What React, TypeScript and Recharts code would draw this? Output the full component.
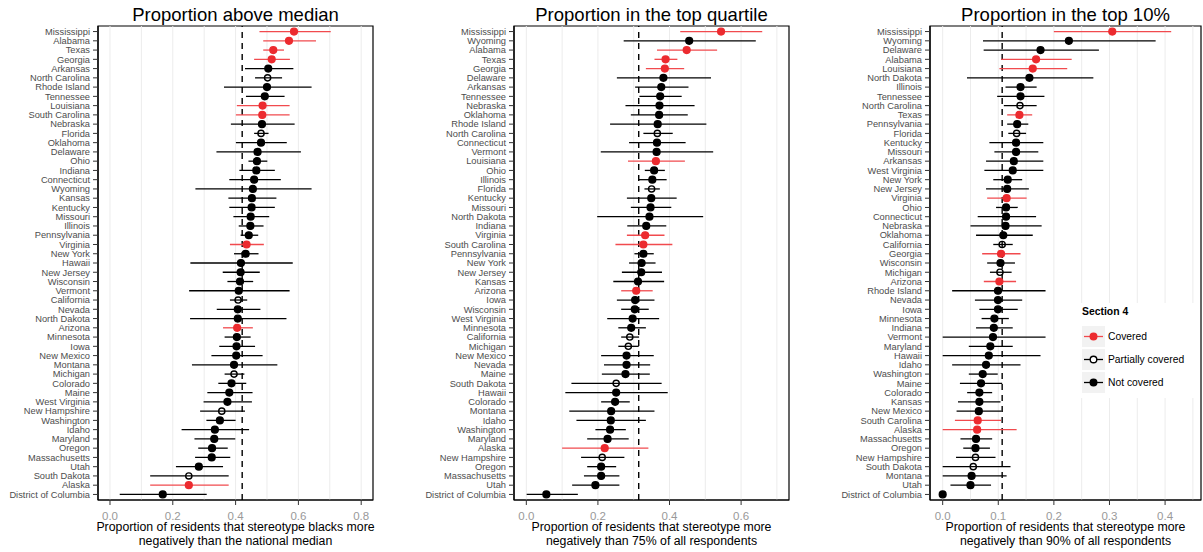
import React from "react";
import {
  ScatterChart,
  Scatter,
  XAxis,
  YAxis,
  ErrorBar,
  ReferenceLine,
  ReferenceArea,
} from "recharts";

// Section 4 coverage status
const coveredStates = ["Mississippi", "Alabama", "Texas", "Georgia", "Louisiana", "South Carolina", "Virginia", "Arizona", "Alaska"];
const partialStates = ["North Carolina", "Florida", "California", "Michigan", "New Hampshire", "South Dakota"];

// Panel 1: proportion above national median
const medianStates = ["Mississippi", "Alabama", "Texas", "Georgia", "Arkansas", "North Carolina", "Rhode Island", "Tennessee", "Louisiana", "South Carolina", "Nebraska", "Florida", "Oklahoma", "Delaware", "Ohio", "Indiana", "Connecticut", "Wyoming", "Kansas", "Kentucky", "Missouri", "Illinois", "Pennsylvania", "Virginia", "New York", "Hawaii", "New Jersey", "Wisconsin", "Vermont", "California", "Nevada", "North Dakota", "Arizona", "Minnesota", "Iowa", "New Mexico", "Montana", "Michigan", "Colorado", "Maine", "West Virginia", "New Hampshire", "Washington", "Idaho", "Maryland", "Oregon", "Massachusetts", "Utah", "South Dakota", "Alaska", "District of Columbia"];
const medianEst = [0.586, 0.570, 0.520, 0.515, 0.504, 0.502, 0.500, 0.493, 0.486, 0.485, 0.484, 0.481, 0.481, 0.470, 0.468, 0.466, 0.459, 0.455, 0.452, 0.451, 0.448, 0.447, 0.442, 0.435, 0.432, 0.417, 0.416, 0.414, 0.410, 0.408, 0.407, 0.407, 0.405, 0.404, 0.403, 0.402, 0.395, 0.395, 0.387, 0.380, 0.374, 0.356, 0.350, 0.334, 0.332, 0.325, 0.324, 0.283, 0.251, 0.251, 0.168];
const medianLo = [0.476, 0.488, 0.488, 0.459, 0.430, 0.462, 0.363, 0.433, 0.404, 0.401, 0.385, 0.459, 0.401, 0.339, 0.441, 0.412, 0.380, 0.272, 0.377, 0.380, 0.393, 0.410, 0.416, 0.382, 0.395, 0.256, 0.359, 0.374, 0.252, 0.382, 0.340, 0.255, 0.360, 0.365, 0.348, 0.323, 0.261, 0.365, 0.345, 0.310, 0.298, 0.287, 0.307, 0.228, 0.269, 0.281, 0.271, 0.210, 0.128, 0.128, 0.031];
const medianHi = [0.703, 0.656, 0.554, 0.573, 0.584, 0.548, 0.642, 0.556, 0.572, 0.572, 0.588, 0.505, 0.563, 0.608, 0.501, 0.525, 0.544, 0.642, 0.530, 0.525, 0.507, 0.489, 0.472, 0.490, 0.473, 0.582, 0.477, 0.456, 0.572, 0.437, 0.479, 0.562, 0.455, 0.448, 0.462, 0.486, 0.533, 0.428, 0.434, 0.454, 0.452, 0.430, 0.400, 0.443, 0.399, 0.375, 0.383, 0.360, 0.378, 0.378, 0.308];
const medianRef = 0.421;

// Panel 2: proportion in the top quartile
const quartileStates = ["Mississippi", "Wyoming", "Alabama", "Texas", "Georgia", "Delaware", "Arkansas", "Tennessee", "Nebraska", "Oklahoma", "Rhode Island", "North Carolina", "Connecticut", "Vermont", "Louisiana", "Ohio", "Illinois", "Florida", "Kentucky", "Missouri", "North Dakota", "Indiana", "Virginia", "South Carolina", "Pennsylvania", "New York", "New Jersey", "Kansas", "Arizona", "Iowa", "Wisconsin", "West Virginia", "Minnesota", "California", "Michigan", "New Mexico", "Nevada", "Maine", "South Dakota", "Hawaii", "Colorado", "Montana", "Idaho", "Washington", "Maryland", "Alaska", "New Hampshire", "Oregon", "Massachusetts", "Utah", "District of Columbia"];
const quartileEst = [0.544, 0.455, 0.448, 0.389, 0.387, 0.383, 0.377, 0.374, 0.372, 0.371, 0.367, 0.366, 0.365, 0.364, 0.362, 0.357, 0.352, 0.350, 0.349, 0.347, 0.344, 0.335, 0.332, 0.327, 0.327, 0.322, 0.321, 0.312, 0.307, 0.304, 0.303, 0.297, 0.293, 0.289, 0.285, 0.280, 0.280, 0.277, 0.251, 0.251, 0.248, 0.237, 0.236, 0.234, 0.227, 0.219, 0.212, 0.209, 0.209, 0.193, 0.056];
const quartileLo = [0.430, 0.272, 0.365, 0.358, 0.334, 0.253, 0.304, 0.316, 0.277, 0.292, 0.234, 0.327, 0.287, 0.208, 0.284, 0.331, 0.314, 0.330, 0.281, 0.292, 0.198, 0.282, 0.281, 0.249, 0.302, 0.287, 0.267, 0.243, 0.265, 0.253, 0.265, 0.226, 0.257, 0.265, 0.257, 0.209, 0.217, 0.211, 0.126, 0.109, 0.209, 0.120, 0.140, 0.193, 0.170, 0.100, 0.153, 0.170, 0.161, 0.128, 0.001];
const quartileHi = [0.659, 0.641, 0.533, 0.422, 0.441, 0.516, 0.453, 0.434, 0.470, 0.451, 0.503, 0.409, 0.445, 0.522, 0.443, 0.387, 0.392, 0.373, 0.420, 0.405, 0.494, 0.391, 0.386, 0.408, 0.356, 0.361, 0.379, 0.385, 0.353, 0.358, 0.342, 0.371, 0.334, 0.315, 0.314, 0.356, 0.346, 0.345, 0.378, 0.395, 0.289, 0.358, 0.334, 0.278, 0.286, 0.341, 0.274, 0.251, 0.260, 0.260, 0.144];
const quartileRef = 0.314;

// Panel 3: proportion in the top 10%
const top10States = ["Mississippi", "Wyoming", "Delaware", "Alabama", "Louisiana", "North Dakota", "Illinois", "Tennessee", "North Carolina", "Texas", "Pennsylvania", "Florida", "Kentucky", "Missouri", "Arkansas", "West Virginia", "New York", "New Jersey", "Virginia", "Ohio", "Connecticut", "Nebraska", "Oklahoma", "California", "Georgia", "Wisconsin", "Michigan", "Arizona", "Rhode Island", "Nevada", "Iowa", "Minnesota", "Indiana", "Vermont", "Maryland", "Hawaii", "Idaho", "Washington", "Maine", "Colorado", "Kansas", "New Mexico", "South Carolina", "Alaska", "Massachusetts", "Oregon", "New Hampshire", "South Dakota", "Montana", "Utah", "District of Columbia"];
const top10Est = [0.305, 0.227, 0.176, 0.168, 0.162, 0.156, 0.140, 0.140, 0.139, 0.138, 0.134, 0.133, 0.132, 0.132, 0.128, 0.126, 0.117, 0.116, 0.115, 0.114, 0.114, 0.113, 0.109, 0.107, 0.105, 0.104, 0.103, 0.102, 0.0995, 0.0995, 0.0995, 0.093, 0.092, 0.0905, 0.0857, 0.083, 0.078, 0.072, 0.069, 0.066, 0.066, 0.065, 0.063, 0.062, 0.060, 0.059, 0.059, 0.055, 0.052, 0.050, 0.0];
const top10Lo = [0.200, 0.0725, 0.0737, 0.105, 0.102, 0.0437, 0.113, 0.098, 0.110, 0.116, 0.116, 0.118, 0.084, 0.093, 0.078, 0.075, 0.091, 0.078, 0.080, 0.096, 0.063, 0.050, 0.060, 0.091, 0.071, 0.080, 0.085, 0.074, 0.017, 0.058, 0.066, 0.070, 0.060, 0.0, 0.047, 0.0, 0.017, 0.047, 0.031, 0.044, 0.0275, 0.025, 0.022, 0.0, 0.032, 0.037, 0.024, 0.0, 0.0, 0.014, 0.0];
const top10Hi = [0.411, 0.383, 0.281, 0.232, 0.224, 0.271, 0.169, 0.183, 0.169, 0.161, 0.154, 0.150, 0.181, 0.172, 0.181, 0.181, 0.143, 0.155, 0.151, 0.135, 0.168, 0.178, 0.162, 0.126, 0.140, 0.130, 0.124, 0.132, 0.185, 0.143, 0.135, 0.119, 0.126, 0.185, 0.126, 0.176, 0.140, 0.099, 0.107, 0.089, 0.104, 0.106, 0.105, 0.133, 0.089, 0.085, 0.095, 0.122, 0.115, 0.087, 0.0];
const top10Ref = 0.107;

const ticks8 = [0, 0.2, 0.4, 0.6, 0.8];
const ticks6 = [0, 0.2, 0.4, 0.6];
const ticks4 = [0, 0.1, 0.2, 0.3, 0.4];
const grid8 = [0, 0.1, 0.2, 0.3, 0.4, 0.5, 0.6, 0.7, 0.8];
const grid7 = [0, 0.1, 0.2, 0.3, 0.4, 0.5, 0.6, 0.7];
const grid4 = [0, 0.05, 0.1, 0.15, 0.2, 0.25, 0.3, 0.35, 0.4, 0.45];

const FONT = '"Liberation Sans", Arial, Helvetica, sans-serif';
const RED = "#ec2b2f";
const RED_BAR = "#f14a4e";
const H = 552;

type PanelCfg = {
  title: string;
  xlabel: string[];
  states: string[];
  est: number[];
  lo: number[];
  hi: number[];
  ref: number;
  ticks: number[];
  grid: number[];
  domain: [number, number];
  left: number;
  width: number;
  axisWidth: number;
  marginRight: number;
};

const panels: PanelCfg[] = [
  {
    title: "Proportion above median",
    xlabel: ["Proportion of residents that stereotype blacks more", "negatively than the national median"],
    states: medianStates, est: medianEst, lo: medianLo, hi: medianHi, ref: medianRef,
    ticks: ticks8, grid: grid8, domain: [-0.0382, 0.8376],
    left: 0, width: 380, axisWidth: 98, marginRight: 7,
  },
  {
    title: "Proportion in the top quartile",
    xlabel: ["Proportion of residents that stereotype more", "negatively than 75% of all respondents"],
    states: quartileStates, est: quartileEst, lo: quartileLo, hi: quartileHi, ref: quartileRef,
    ticks: ticks6, grid: grid7, domain: [-0.0344, 0.7338],
    left: 400, width: 400, axisWidth: 114, marginRight: 11,
  },
  {
    title: "Proportion in the top 10%",
    xlabel: ["Proportion of residents that stereotype more", "negatively than 90% of all respondents"],
    states: top10States, est: top10Est, lo: top10Lo, hi: top10Hi, ref: top10Ref,
    ticks: ticks4, grid: grid4, domain: [-0.0228, 0.4646],
    left: 810, width: 393, axisWidth: 120, marginRight: 2,
  },
];

const status = (s: string) =>
  coveredStates.includes(s) ? "covered" : partialStates.includes(s) ? "partial" : "not";

const dot = (fill: string, stroke: string, r: number) => (p: any) => (
  <circle cx={p.cx} cy={p.cy} r={r} fill={fill} stroke={stroke} strokeWidth={1.4} />
);

// plain <text> so long state names never wrap
const stateTick = (states: string[]) => (p: any) => (
  <text
    x={p.x}
    y={p.y}
    dy="0.35em"
    textAnchor="end"
    fontSize={9.3}
    fill="#4d4d4d"
    fontFamily={FONT}
  >
    {states[p.payload.value]}
  </text>
);

function Panel({ cfg }: { cfg: PanelCfg }) {
  const rows = cfg.states.map((state, i) => ({
    row: i,
    state,
    est: cfg.est[i],
    err: [cfg.est[i] - cfg.lo[i], cfg.hi[i] - cfg.est[i]],
  }));
  const groups = [
    { key: "not", bar: "#000", shape: dot("#000", "#000", 3.4) },
    { key: "partial", bar: "#000", shape: dot("none", "#000", 3.1) },
    { key: "covered", bar: RED_BAR, shape: dot(RED, RED, 3.4) },
  ];
  const plotW = cfg.width - cfg.axisWidth - cfg.marginRight;
  const n = cfg.states.length;

  return (
    <div style={{ position: "absolute", left: cfg.left, top: 0, width: cfg.width, height: H }}>
      <ScatterChart
        width={cfg.width}
        height={H}
        margin={{ top: 26, right: cfg.marginRight, bottom: 0, left: 0 }}
      >
        <XAxis
          type="number"
          dataKey="est"
          domain={cfg.domain}
          allowDataOverflow
          ticks={cfg.ticks}
          tickFormatter={(v: number) => v.toFixed(1)}
          tick={{ fontSize: 11.5, fill: "#999999", fontFamily: FONT }}
          tickSize={5}
          tickMargin={7}
          height={52}
          axisLine={{ stroke: "#000", strokeWidth: 1.2 }}
          tickLine={{ stroke: "#333" }}
        />
        <YAxis
          type="number"
          dataKey="row"
          domain={[-0.6, n - 0.4]}
          allowDataOverflow
          reversed
          ticks={rows.map((r) => r.row)}
          interval={0}
          tick={stateTick(cfg.states)}
          tickSize={5}
          tickMargin={3}
          width={cfg.axisWidth}
          axisLine={{ stroke: "#000", strokeWidth: 1.2 }}
          tickLine={{ stroke: "#333" }}
        />
        {cfg.grid.map((g) => (
          <ReferenceLine key={g} x={g} stroke="#ececec" strokeWidth={1} />
        ))}
        <ReferenceLine x={cfg.ref} stroke="#000" strokeWidth={1.4} strokeDasharray="6 5" />
        {groups.map((g) => (
          <Scatter
            key={g.key}
            data={rows.filter((r) => status(r.state) === g.key)}
            shape={g.shape}
            isAnimationActive={false}
          >
            <ErrorBar
              dataKey="err"
              direction="x"
              width={0}
              stroke={g.bar}
              strokeWidth={1.3}
              isAnimationActive={false}
            />
          </Scatter>
        ))}
        <ReferenceArea
          x1={cfg.domain[0]}
          x2={cfg.domain[1]}
          y1={-0.6}
          y2={n - 0.4}
          fill="none"
          stroke="#000"
          strokeWidth={1.2}
          ifOverflow="visible"
        />
      </ScatterChart>
      <div
        style={{
          position: "absolute",
          left: cfg.axisWidth - 40,
          width: plotW + 80,
          top: 6,
          textAlign: "center",
          fontFamily: FONT,
          fontSize: 18.5,
          lineHeight: "18.5px",
          color: "#000",
          whiteSpace: "nowrap",
        }}
      >
        {cfg.title}
      </div>
      <div
        style={{
          position: "absolute",
          left: cfg.axisWidth - 60,
          width: plotW + 120,
          top: 520,
          textAlign: "center",
          fontFamily: FONT,
          fontSize: 12.3,
          lineHeight: "14px",
          color: "#000",
          whiteSpace: "nowrap",
        }}
      >
        {cfg.xlabel.map((l) => (
          <div key={l}>{l}</div>
        ))}
      </div>
    </div>
  );
}

const legendItems = [
  { label: "Covered", line: RED_BAR, fill: RED, stroke: RED },
  { label: "Partially covered", line: "#000", fill: "#fff", stroke: "#000" },
  { label: "Not covered", line: "#000", fill: "#000", stroke: "#000" },
];

function SectionLegend() {
  return (
    <div
      style={{
        position: "absolute",
        left: 1078,
        top: 303,
        width: 118,
        padding: "2px 0 4px 4px",
        background: "#fff",
        fontFamily: FONT,
        color: "#000",
      }}
    >
      <div style={{ fontSize: 10.4, fontWeight: "bold", lineHeight: "14px", marginBottom: 6 }}>
        Section 4
      </div>
      {legendItems.map((it) => (
        <div key={it.label} style={{ display: "flex", alignItems: "center", height: 23 }}>
          <svg width={23} height={21} style={{ display: "block" }}>
            <rect x={0} y={0} width={23} height={21} fill="#f2f2f2" />
            <line x1={2} x2={21} y1={10.5} y2={10.5} stroke={it.line} strokeWidth={1.3} />
            <circle cx={11.5} cy={10.5} r={3.3} fill={it.fill} stroke={it.stroke} strokeWidth={1.4} />
          </svg>
          <span style={{ fontSize: 10.3, marginLeft: 3, whiteSpace: "nowrap" }}>{it.label}</span>
        </div>
      ))}
    </div>
  );
}

export default function App() {
  return (
    <div
      style={{
        position: "absolute",
        left: 0,
        top: 0,
        width: 1203,
        height: H,
        background: "#fff",
        overflow: "hidden",
      }}
    >
      {panels.map((p) => (
        <Panel key={p.title} cfg={p} />
      ))}
      <SectionLegend />
    </div>
  );
}
